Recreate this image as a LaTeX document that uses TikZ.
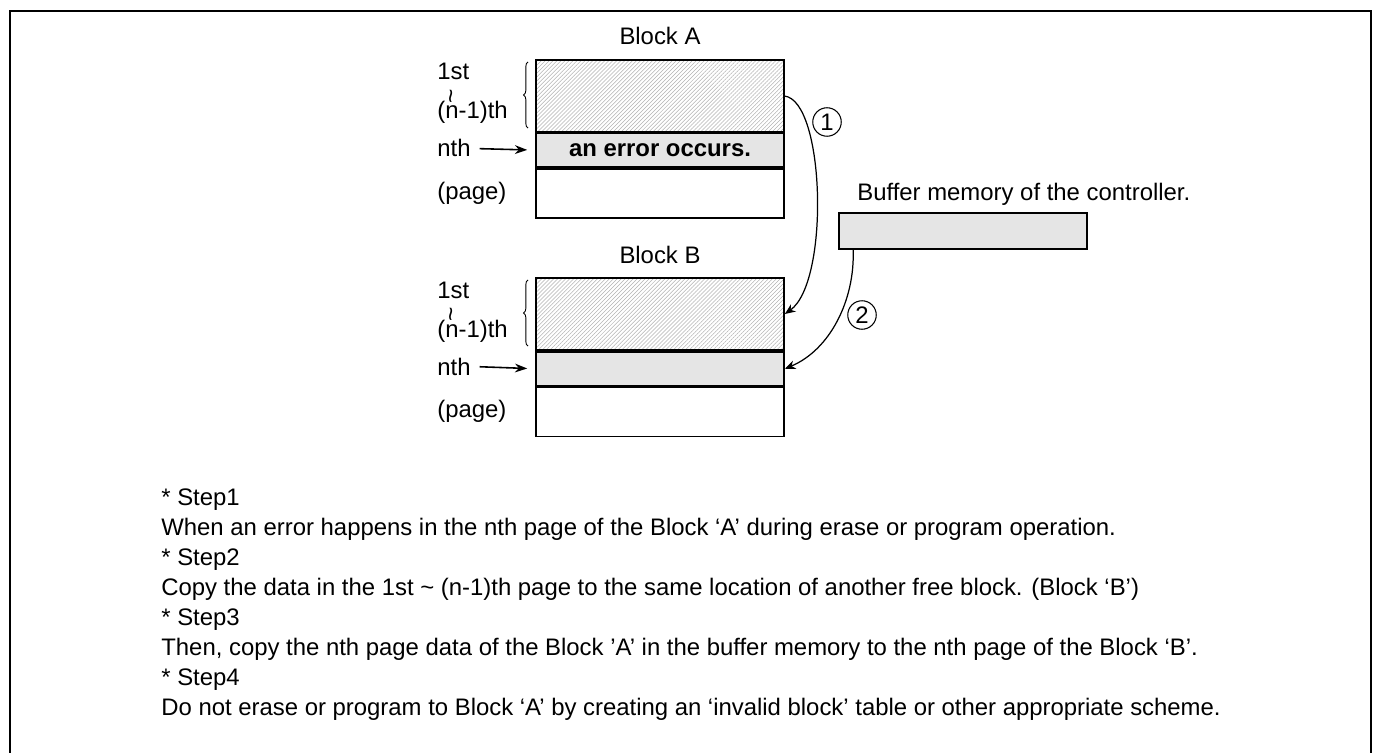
\documentclass[tikz,border=0pt]{standalone}
\usepackage{fontspec}
\setmainfont{Liberation Sans}
\usetikzlibrary{positioning,arrows.meta,patterns.meta,decorations.pathreplacing}

\begin{document}
\begin{tikzpicture}[x=0.02cm,y=-0.02cm,
	every node/.style={font=\fontsize{13.6}{15}\selectfont},
	lbl/.style={anchor=base west,inner sep=0pt},
	row/.style={draw,line width=1pt,minimum width=4.96cm,inner sep=0pt},
	hatchrow/.style={row,minimum height=1.44cm,
		pattern={Lines[angle=45,distance=1.6pt,line width=0.3pt]},pattern color=gray!60},
	nthrow/.style={row,minimum height=0.68cm,fill=gray!20},
	pagerow/.style={row,minimum height=0.98cm},
	num/.style={circle,draw,line width=0.6pt,minimum size=0.57cm,inner sep=0pt},
	flow/.style={line width=0.7pt,-{Stealth[length=6pt,width=5pt]}}]
\useasboundingbox (0,0) rectangle (1375,753);
% frame (its bottom edge is cut off)
\draw[line width=1.2pt] (10,753) -- (10,11) -- (1371,11) -- (1371,753);

% the two blocks
\foreach \b/\dy in {A/0,B/218}{
	\node[anchor=base] (title\b) at (660,45+\dy) {Block \b};
	\node[hatchrow] (hatch\b) at (660,96+\dy) {};
	\node[nthrow,below=0pt of hatch\b] (nth\b) {};
	\node[pagerow,below=0pt of nth\b] (page\b) {};
	\node[lbl] (first\b) at (437,80+\dy) {1st};
	\node[rotate=90,inner sep=0pt,font=\fontsize{14}{14}\selectfont] (tilde\b) at (454,96+\dy) {\textasciitilde};
	\node[lbl] (last\b) at (437,119+\dy) {(n-1)th};
	\node[lbl] (nthlbl\b) at (437,157+\dy) {nth};
	\node[lbl] (pagelbl\b) at (437,199+\dy) {(page)};
	\draw[decorate,decoration={brace,amplitude=2.5pt},line width=0.5pt]
		(528,128+\dy) -- (528,62+\dy);
	\draw[line width=0.9pt,-{Stealth[length=7pt,width=5pt]},shorten <=5pt,shorten >=4.5pt]
		(nthlbl\b.east) -- (nth\b.west);
}
\node[font=\fontsize{13.6}{15}\selectfont\bfseries] (err) at (nthA) {an error occurs.};

% buffer of the controller
\node[row,minimum height=0.72cm,fill=gray!20] (buf) at (963,231) {};
\node[lbl] (buflbl) at (857,200) {Buffer memory of the controller.};

% copy steps
\draw[flow] (hatchA.east) .. controls (825,100) and (830,282) .. (hatchB.east);
\draw[flow] ([xshift=0.3cm]buf.south west) .. controls (855,300) and (830,350) .. (nthB.east);
\node[num] (one) at (827,122) {1};
\node[num] (two) at (862,315) {2};

% explanation
\foreach \t [count=\i from 0] in {{* Step1},
	{When an error happens in the nth page of the Block ‘A’ during erase or program operation.},
	{* Step2},
	{Copy the data in the 1st \textasciitilde{} (n-1)th page to the same location of another free block. (Block ‘B’)},
	{* Step3},
	{Then, copy the nth page data of the Block ’A’ in the buffer memory to the nth page of the Block ‘B’.},
	{* Step4},
	{Do not erase or program to Block ‘A’ by creating an ‘invalid block’ table or other appropriate scheme.}}
	\node[lbl] (step\i) at (161,505+30*\i) {\t};
\end{tikzpicture}
\end{document}
